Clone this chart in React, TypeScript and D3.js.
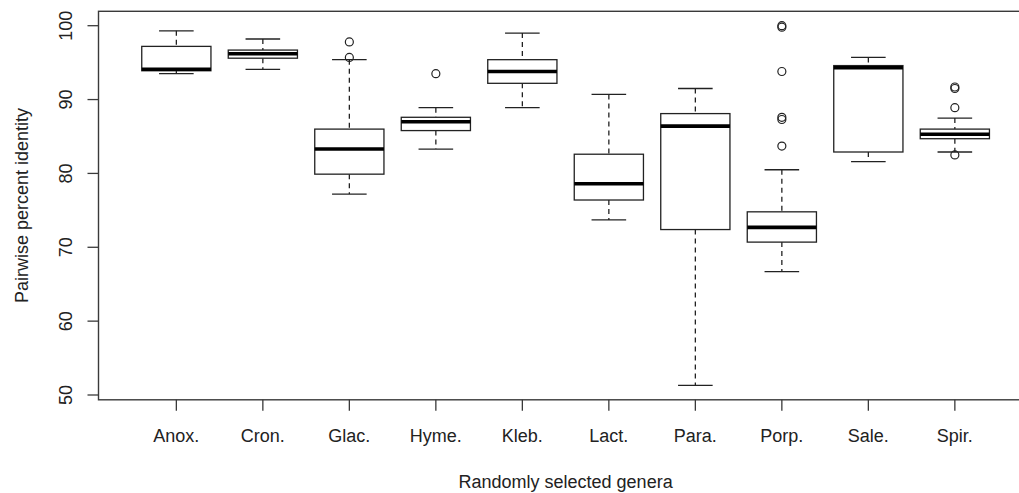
import React, { useRef, useEffect } from 'react';
import * as d3 from 'd3';

// genera on the x axis
const genera = ['Anox.', 'Cron.', 'Glac.', 'Hyme.', 'Kleb.', 'Lact.', 'Para.', 'Porp.', 'Sale.', 'Spir.'];

// five-number summaries
const whiskerLow = [93.5, 94.1, 77.2, 83.3, 88.9, 73.7, 51.3, 66.7, 81.6, 82.9];
const lowerHinge = [93.9, 95.6, 79.9, 85.8, 92.2, 76.4, 72.4, 70.7, 82.9, 84.7];
const medians = [94.1, 96.2, 83.3, 87.0, 93.8, 78.6, 86.4, 72.7, 94.3, 85.3];
const upperHinge = [97.2, 96.7, 86.0, 87.6, 95.4, 82.6, 88.1, 74.8, 94.6, 86.0];
const whiskerHigh = [99.3, 98.2, 95.4, 88.9, 99.0, 90.7, 91.5, 80.5, 95.7, 87.5];
const outliers: number[][] = [
  [],
  [],
  [97.8, 95.7],
  [93.5],
  [],
  [],
  [],
  [100.0, 99.8, 93.8, 87.6, 87.3, 83.7],
  [],
  [91.7, 91.5, 88.9, 82.5],
];

const yTicks = [50, 60, 70, 80, 90, 100];

const W = 1019;
const H = 493;
const FONT = '"Liberation Sans", Arial, sans-serif';

const BoxPlot = () => {
  const svgRef = useRef<SVGSVGElement>(null);

  useEffect(() => {
    const svg = d3.select(svgRef.current);
    svg.selectAll('*').remove();

    // R style: positions 1..n, xlim 0.5..n+0.5 padded by 4%
    const x = d3.scaleLinear().domain([0.1, 10.9]).range([98.5, 1032.7]);
    const y = d3.scaleLinear().domain([50, 100]).range([395, 25.7]);
    const boxW = x(1.8) - x(1);
    const capW = boxW / 2;

    const frameTop = y(101.95);
    const frameBottom = y(49.35);

    // plot frame
    svg.append('rect')
      .attr('x', x(0.1))
      .attr('y', frameTop)
      .attr('width', x(10.9) - x(0.1))
      .attr('height', frameBottom - frameTop)
      .attr('fill', 'none')
      .attr('stroke', '#3a3a3a')
      .attr('stroke-width', 1.4);

    // y axis ticks + labels
    const yAxis = svg.append('g');
    yTicks.forEach((t) => {
      yAxis.append('line')
        .attr('x1', x(0.1) - 11).attr('x2', x(0.1))
        .attr('y1', y(t)).attr('y2', y(t))
        .attr('stroke', '#3a3a3a').attr('stroke-width', 1.3);
      yAxis.append('text')
        .attr('transform', `translate(72,${y(t)}) rotate(-90)`)
        .attr('text-anchor', 'middle')
        .attr('font-family', FONT)
        .attr('font-size', 18)
        .attr('fill', '#222')
        .text(t);
    });

    // x axis ticks + labels
    const xAxis = svg.append('g');
    genera.forEach((g, i) => {
      const cx = x(i + 1);
      xAxis.append('line')
        .attr('x1', cx).attr('x2', cx)
        .attr('y1', frameBottom).attr('y2', frameBottom + 11)
        .attr('stroke', '#3a3a3a').attr('stroke-width', 1.3);
      xAxis.append('text')
        .attr('x', cx).attr('y', 442)
        .attr('text-anchor', 'middle')
        .attr('font-family', FONT)
        .attr('font-size', 18)
        .attr('fill', '#222')
        .text(g);
    });

    // axis titles
    svg.append('text')
      .attr('x', (x(0.1) + x(10.9)) / 2).attr('y', 488)
      .attr('text-anchor', 'middle')
      .attr('font-family', FONT)
      .attr('font-size', 18)
      .attr('fill', '#222')
      .text('Randomly selected genera');

    svg.append('text')
      .attr('transform', `translate(28,${(frameTop + frameBottom) / 2}) rotate(-90)`)
      .attr('text-anchor', 'middle')
      .attr('font-family', FONT)
      .attr('font-size', 18)
      .attr('fill', '#222')
      .text('Pairwise percent identity');

    // boxes
    const boxes = svg.selectAll('.box')
      .data(genera)
      .enter()
      .append('g')
      .attr('class', 'box');

    boxes.each(function (_d, i) {
      const g = d3.select(this);
      const cx = x(i + 1);

      // dashed whiskers
      g.append('line')
        .attr('x1', cx).attr('x2', cx)
        .attr('y1', y(whiskerHigh[i])).attr('y2', y(upperHinge[i]))
        .attr('stroke', '#222').attr('stroke-width', 1.3)
        .attr('stroke-dasharray', '5,4');
      g.append('line')
        .attr('x1', cx).attr('x2', cx)
        .attr('y1', y(lowerHinge[i])).attr('y2', y(whiskerLow[i]))
        .attr('stroke', '#222').attr('stroke-width', 1.3)
        .attr('stroke-dasharray', '5,4');

      // staples
      [whiskerHigh[i], whiskerLow[i]].forEach((v) => {
        g.append('line')
          .attr('x1', cx - capW / 2).attr('x2', cx + capW / 2)
          .attr('y1', y(v)).attr('y2', y(v))
          .attr('stroke', '#222').attr('stroke-width', 1.3);
      });

      // box
      g.append('rect')
        .attr('x', cx - boxW / 2)
        .attr('y', y(upperHinge[i]))
        .attr('width', boxW)
        .attr('height', y(lowerHinge[i]) - y(upperHinge[i]))
        .attr('fill', 'white')
        .attr('stroke', '#222')
        .attr('stroke-width', 1.3);

      // median
      g.append('line')
        .attr('x1', cx - boxW / 2).attr('x2', cx + boxW / 2)
        .attr('y1', y(medians[i])).attr('y2', y(medians[i]))
        .attr('stroke', '#000').attr('stroke-width', 3.6);

      // outliers
      g.selectAll('circle')
        .data(outliers[i])
        .enter()
        .append('circle')
        .attr('cx', cx)
        .attr('cy', (v) => y(v))
        .attr('r', 4)
        .attr('fill', 'none')
        .attr('stroke', '#222')
        .attr('stroke-width', 1.2);
    });
  }, []);

  return (
    <svg
      ref={svgRef}
      width={W}
      height={H}
      style={{ position: 'absolute', left: 0, top: 0, background: '#fff' }}
    />
  );
};

export default function App() {
  return <BoxPlot />;
}
